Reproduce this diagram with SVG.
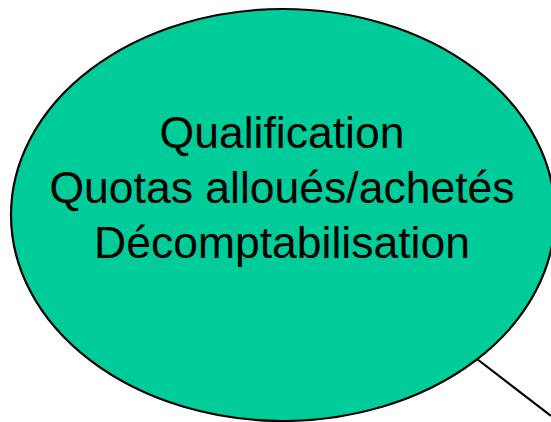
<svg xmlns="http://www.w3.org/2000/svg" width="551" height="422" viewBox="0 0 551 422">
<style>
.t{font-family:"Liberation Sans",Arial,sans-serif;font-size:44.5px;fill:#000;text-anchor:middle}
</style>
<rect width="551" height="422" fill="#fff"/>
<g id="connectors">
<line x1="477" y1="359" x2="551" y2="416" stroke="#000" stroke-width="2.2"/>
</g>
<g id="bubble">
<ellipse cx="283" cy="215" rx="272" ry="206" fill="#00CC99" stroke="#000" stroke-width="2.2"/>
<text class="t" x="282" y="148">Qualification</text>
<text class="t" x="282" y="203">Quotas alloués/achetés</text>
<text class="t" x="282" y="258">Décomptabilisation</text>
</g>
</svg>
